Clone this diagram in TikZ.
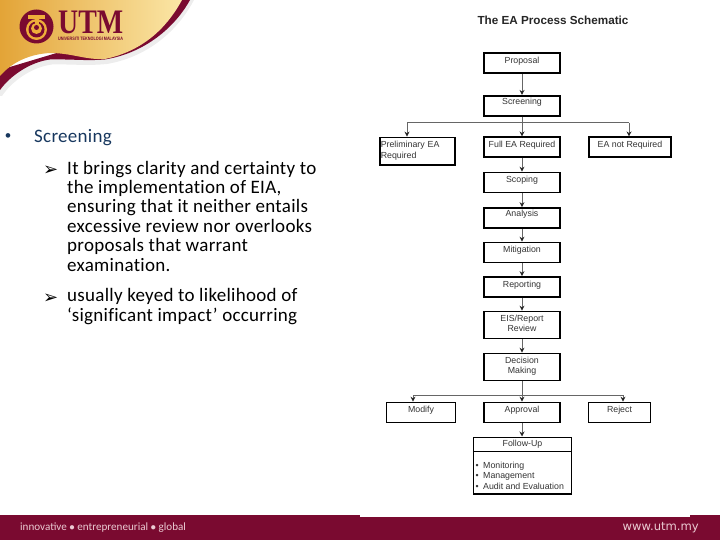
\documentclass[tikz,border=0pt]{standalone}
\usepackage{fontspec}
\setmainfont{Liberation Sans}
\newfontfamily\bodyfont[LetterSpace=1.5,Ligatures={NoCommon}]{Carlito}
\newfontfamily\tagfont{Carlito}
\newfontfamily\webfont{DejaVu Sans}
\newfontfamily\symfont{DejaVu Sans}
\newfontfamily\logofont{Liberation Serif}
\usetikzlibrary{arrows.meta}
\definecolor{maroon}{HTML}{7A0A30}
\definecolor{navy}{HTML}{17375E}
\definecolor{footertext}{HTML}{EBCBD3}
\definecolor{goldl}{HTML}{E3A437}
\definecolor{goldm}{HTML}{F5C75E}
\definecolor{goldr}{HTML}{FBE6A6}
\definecolor{logogold}{HTML}{EFAE3A}
\tikzset{
  schem/.style={font=\fontsize{8.8}{10.6}\selectfont,text=black!80},
  boxs/.style={schem,draw=black,line width=1.7pt,inner sep=0pt,minimum width=76.5pt,minimum height=20pt,align=center},
  lift/.style={text height=4pt,text depth=#1},
  link/.style={draw=black!60,line width=1pt,-{Stealth[length=5pt,width=5pt,black!85]}},
  linkplain/.style={draw=black!60,line width=1pt},
  bodytext/.style={font=\bodyfont\fontsize{19}{19.4}\selectfont,inner sep=0pt,anchor=base west,align=left},
  arrowb/.style={font=\symfont\fontsize{18}{18}\selectfont,inner sep=0pt,anchor=base west}
}
\begin{document}
\begin{tikzpicture}[x=1pt,y=-1pt]
\useasboundingbox (0,0) rectangle (720,540);
% header swoosh
\fill[black!7] (194,0) .. controls (181,25) and (153,56) .. (107,64) .. controls (85,66) and (72,64) .. (52,64.5) .. controls (32,67) and (12,81) .. (2,96) -- (0,96) -- (0,70) -- (100,40) -- (182,0) -- cycle;
\fill[maroon] (190,0) .. controls (178,22) and (150,52) .. (105,59.5) .. controls (85,61) and (72,59) .. (50,59.5) .. controls (30,62) and (10,76) .. (0,90) -- (0,70) -- (100,40) -- (182,0) -- cycle;
\shade[left color=goldl,middle color=goldm,right color=goldr]
 (0,0) -- (182,0) .. controls (170,22) and (148,50) .. (105,59) .. controls (85,60) and (72,53) .. (50,53) .. controls (30,54) and (12,62) .. (0,76) -- cycle;
% logo
\fill[maroon] (36.5,26.5) circle (17);
\fill[logogold] (36.5,29.5) circle (10.5);
\fill[maroon] (36.5,29.5) circle (8);
\fill[logogold] (36.5,28.5) circle (5.5);
\fill[maroon] (36.5,27.5) circle (2.5);
\fill[logogold] (28,15) rectangle (45,19);
\fill[logogold] (34.5,19) rectangle (38.5,24);
\node[inner sep=0pt,anchor=base west,text=maroon,font=\logofont\bfseries\fontsize{35}{35}\selectfont] (utm) at (58,33.5) {\resizebox{65pt}{22.5pt}{UTM}};
\node[inner sep=0pt,anchor=base west,text=maroon,font=\bfseries\fontsize{4.6}{5}\selectfont] (utmsub) at (58,41) {\resizebox{65pt}{3.4pt}{UNIVERSITI TEKNOLOGI MALAYSIA}};
% footer
\fill[maroon] (0,515) rectangle (720,540);
\fill[white] (360,510) rectangle (690,516.7);
\node[inner sep=0pt,anchor=base west,text=footertext,font=\tagfont\fontsize{11.1}{12}\selectfont] (tagline) at (20,530.5) {innovative $\bullet$ entrepreneurial $\bullet$ global};
\node[inner sep=0pt,anchor=base east,text=footertext,font=\webfont\fontsize{11.6}{12}\selectfont] (web) at (699,530.5) {www.utm.my};
% left text
\node[inner sep=0pt,anchor=base west,font=\fontsize{17}{17}\selectfont,text=navy] (b0) at (5,142) {•};
\node[bodytext,text=navy] (t0) at (34,143) {Screening};
\node[arrowb] (b1) at (43,176) {➢};
\node[bodytext] (t1) at (67,271) {It brings clarity and certainty to\\the implementation of EIA,\\ensuring that it neither entails\\excessive review nor overlooks\\proposals that warrant\\examination.};
\node[arrowb] (b2) at (43,303) {➢};
\node[bodytext] (t2) at (67,321) {usually keyed to likelihood of\\‘significant impact’ occurring};
% schematic
\node[inner sep=0pt,font=\bfseries\fontsize{11.7}{12}\selectfont,text=black!85] (title) at (553,20.5) {The EA Process Schematic};
\node[boxs,lift=3.4pt] (proposal) at (522,63.3) {Proposal};
\node[boxs,lift=5.6pt] (screening) at (522,105.8) {Screening};
\node[boxs,minimum width=75.5pt,minimum height=27.5pt,text width=73.5pt,align=left] (prelim) at (417.5,151.2) {Preliminary EA\\Required\rule[-3pt]{0pt}{0pt}};
\node[boxs,lift=4pt] (full) at (522,147.3) {Full EA Required};
\node[boxs,minimum width=82.5pt,lift=4pt] (notreq) at (630,147.3) {EA not Required};
\node[boxs,lift=4pt] (scoping) at (522,182.5) {Scoping};
\node[boxs,lift=6pt] (analysis) at (522,218) {Analysis};
\node[boxs,lift=5pt] (mitigation) at (522,252.5) {Mitigation};
\node[boxs,lift=4pt] (reporting) at (522,287) {Reporting};
\node[boxs,minimum height=27pt] (eis) at (522,325) {EIS/Report\\Review\rule[-3pt]{0pt}{0pt}};
\node[boxs,minimum height=27pt] (decision) at (522,367) {Decision\\Making\rule[-3pt]{0pt}{0pt}};
\node[boxs,minimum width=69pt,lift=5pt] (modify) at (421,412.5) {Modify};
\node[boxs,lift=5pt] (approval) at (522,412.5) {Approval};
\node[boxs,minimum width=62pt,lift=5pt] (reject) at (619.5,412.5) {Reject};
\node[draw=black,line width=1.5pt,inner sep=0pt,minimum width=98pt,minimum height=56.5pt] (followup) at (522.5,465.5) {};
\coordinate (fudiv) at (522.5,451);
\draw[black,line width=.9pt] (followup.west |- fudiv) -- (followup.east |- fudiv);
\node[schem,inner sep=0pt] (futitle) at (522.5,444) {Follow-Up};
\node[schem,inner sep=0pt,anchor=base west,align=left] (fulist) at (475.5,489.5) {\makebox[7.5pt][l]{•}Monitoring\\\makebox[7.5pt][l]{•}Management\\\makebox[7.5pt][l]{•}Audit and Evaluation};
% connectors
\coordinate (branch1) at (522,123);
\coordinate (branch1l) at (407,123);
\coordinate (branch1r) at (629,123);
\coordinate (branch2) at (522,395);
\coordinate (branch2l) at (413,395);
\coordinate (branch2r) at (623,395);
\draw[link] (proposal) -- (screening);
\draw[linkplain] (screening) -- (branch1);
\draw[linkplain] (branch1l) -- (branch1r);
\draw[link] (branch1l) -- (branch1l |- prelim.north);
\draw[link] (branch1) -- (full);
\draw[link] (branch1r) -- (branch1r |- notreq.north);
\draw[link] (full) -- (scoping);
\draw[link] (scoping) -- (analysis);
\draw[link] (analysis) -- (mitigation);
\draw[link] (mitigation) -- (reporting);
\draw[link] (reporting) -- (eis);
\draw[link] (eis) -- (decision);
\draw[linkplain] (decision) -- (branch2);
\draw[linkplain] (branch2l) -- (branch2r);
\draw[link] (branch2l) -- (branch2l |- modify.north);
\draw[link] (branch2) -- (approval);
\draw[link] (branch2r) -- (branch2r |- reject.north);
\draw[link] (approval) -- (followup.north -| approval);
\end{tikzpicture}
\end{document}
